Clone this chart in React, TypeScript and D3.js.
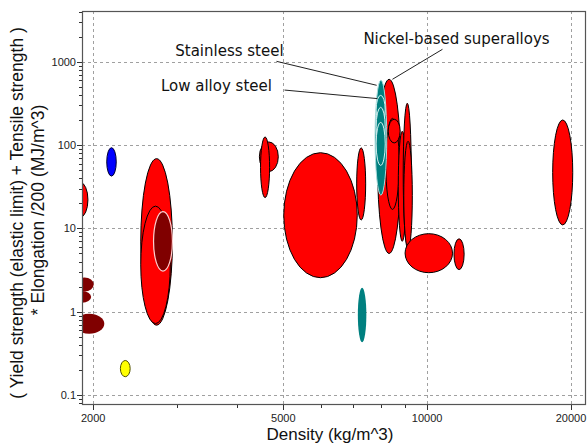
import React from "react";
import * as d3 from "d3";

// ---- data (density kg/m^3, performance index MJ/m^3) ----
const materials = [
  "Magnesium alloys", "PTFE", "GFRP (a)", "GFRP (b)", "CFRP", "Rigid foam",
  "Aluminium alloys", "Wrought Al alloys", "Cast Al alloys",
  "Titanium alloys (a)", "Titanium alloys (b)", "Zinc alloys", "Tin alloys", "Cast irons",
  "Nickel-based superalloys", "Nickel alloys", "Nickel alloys (b)",
  "Copper alloys (a)", "Copper alloys (b)", "Copper alloys (c)",
  "Stainless steel", "Low alloy steel", "Carbon steel", "Tool steel",
  "Lead alloys", "Silver alloys", "Tungsten alloys",
];
const densityLow = [1810, 2135, 1835, 1815, 1825, 2280, 2515, 2515, 2675, 4455, 4480, 5010, 7120, 7160, 7875, 8190, 8290, 8700, 8910, 8935, 7780, 7820, 7820, 7820, 8990, 11380, 18310];
const densityHigh = [1950, 2235, 2005, 1980, 2110, 2390, 2930, 2900, 2930, 4880, 4680, 7140, 7435, 7460, 8800, 8740, 8780, 9040, 9265, 9310, 8230, 8170, 8170, 8170, 11300, 11950, 20170];
const valueLow = [13.6, 42.4, 1.75, 1.28, 0.545, 0.166, 0.69, 0.72, 3.07, 48, 23.4, 2.56, 12.6, 0.43, 5, 16.9, 106, 7, 6.4, 5.6, 25, 177, 94, 57, 2.94, 3.2, 11];
const valueHigh = [35.7, 93, 2.58, 1.77, 0.945, 0.26, 68.7, 18.5, 15.9, 109, 125, 81, 92.5, 1.94, 615, 209, 204, 146, 317, 111, 600, 395, 284, 187, 8.64, 7.5, 200];
const family = [
  "metal", "polymer", "composite", "composite", "composite", "foam",
  "metal", "metal", "cast",
  "metal", "metal", "metal", "metal", "iron",
  "metal", "metal", "metal", "metal", "metal", "metal",
  "steel", "steelSub", "steelSub", "steelSub",
  "metal", "metal", "metal",
];

const annotationLabels = ["Stainless steel", "Low alloy steel", "Nickel-based superalloys"];
const annotationDensity = [2970, 2772, 7354];
const annotationValue = [1161, 447, 1618];
const leaderFromDensity = [4838, 5028, 10766];
const leaderFromValue = [1011, 457, 1409];
const leaderToDensity = [7840, 7866, 8458];
const leaderToValue = [521, 361, 615];

const xTickValues = [2000, 5000, 10000, 20000];
const xTickLabels = ["2000", "5000", "10000", "20000"];
const xMinorValues = [3000, 4000, 6000, 7000, 8000, 9000];
const yTickValues = [0.1, 1, 10, 100, 1000];
const yTickLabels = ["0.1", "1", "10", "100", "1000"];

const xTitle = "Density (kg/m^3)";
const yTitle1 = "( Yield strength (elastic limit) + Tensile strength )";
const yTitle2 = "* Elongation /200  (MJ/m^3)";

// ---- styles ----
const styles: Record<string, { fill: string; stroke: string; sw: number }> = {
  metal: { fill: "#ff0000", stroke: "#000000", sw: 1 },
  polymer: { fill: "#0000ff", stroke: "#000030", sw: 1 },
  composite: { fill: "#800000", stroke: "none", sw: 0 },
  foam: { fill: "#ffff00", stroke: "#505000", sw: 1 },
  cast: { fill: "#800000", stroke: "#ffd0d0", sw: 1.2 },
  iron: { fill: "#008080", stroke: "none", sw: 0 },
  steel: { fill: "#008080", stroke: "#a8dcdc", sw: 1 },
  steelSub: { fill: "#008080", stroke: "#d8f2f2", sw: 1 },
};

const W = 588, H = 446;
const L = 82, R = 586, T = 11, B = 405;

export default function App() {
  const x = d3.scaleLog().domain([1895, 21500]).range([L, R]);
  const y = d3.scaleLog().domain([0.076, 4060]).range([B, T]);
  const yMinor = y.ticks().filter((v) => !yTickValues.some((t) => Math.abs(t - v) / t < 1e-6));
  const axisFont = "Liberation Sans, Arial, sans-serif";

  return (
    <svg width={W} height={H} style={{ position: "absolute", left: 0, top: 0, background: "#fff" }}>
      <defs>
        <clipPath id="plotclip">
          <rect x={L} y={T} width={R - L} height={B - T} />
        </clipPath>
      </defs>
      <rect x={0} y={0} width={W} height={H} fill="#fff" />
      {/* grid */}
      <g stroke="#a0a0a0" strokeWidth={1} strokeDasharray="3,3">
        {yTickValues.map((v, i) => (
          <line key={"gy" + i} x1={L} x2={R} y1={Math.round(y(v)) + 0.5} y2={Math.round(y(v)) + 0.5} />
        ))}
        {xTickValues.map((v, i) => (
          <line key={"gx" + i} x1={Math.round(x(v)) + 0.5} x2={Math.round(x(v)) + 0.5} y1={T} y2={B} />
        ))}
      </g>
      {/* ellipses */}
      <g clipPath="url(#plotclip)">
        {materials.map((m, i) => {
          const x0 = x(densityLow[i]), x1 = x(densityHigh[i]);
          const y0 = y(valueLow[i]), y1 = y(valueHigh[i]);
          const st = styles[family[i]];
          return (
            <ellipse
              key={m}
              cx={(x0 + x1) / 2}
              cy={(y0 + y1) / 2}
              rx={Math.abs(x1 - x0) / 2}
              ry={Math.abs(y1 - y0) / 2}
              fill={st.fill}
              stroke={st.stroke}
              strokeWidth={st.sw}
            />
          );
        })}
      </g>
      {/* annotations */}
      {annotationLabels.map((t, i) => (
        <g key={t}>
          <line
            x1={x(leaderFromDensity[i])}
            y1={y(leaderFromValue[i])}
            x2={x(leaderToDensity[i])}
            y2={y(leaderToValue[i])}
            stroke="#222"
            strokeWidth={1}
          />
          <text
            x={x(annotationDensity[i])}
            y={y(annotationValue[i])}
            fontFamily="DejaVu Sans, Verdana, sans-serif"
            fontSize={15}
            fill="#111"
          >
            {t}
          </text>
        </g>
      ))}
      {/* frame */}
      <rect x={L + 0.5} y={T + 0.5} width={R - L - 1} height={B - T - 1} fill="none" stroke="#555" strokeWidth={1.2} />
      {/* ticks */}
      <g stroke="#333" strokeWidth={1}>
        {yTickValues.map((v, i) => (
          <line key={"ty" + i} x1={L - 5} x2={L} y1={Math.round(y(v)) + 0.5} y2={Math.round(y(v)) + 0.5} />
        ))}
        {yMinor.map((v, i) => (
          <line key={"my" + i} x1={L - 3} x2={L} y1={Math.round(y(v)) + 0.5} y2={Math.round(y(v)) + 0.5} />
        ))}
        {xTickValues.map((v, i) => (
          <line key={"tx" + i} x1={Math.round(x(v)) + 0.5} x2={Math.round(x(v)) + 0.5} y1={B} y2={B + 5} />
        ))}
        {xMinorValues.map((v, i) => (
          <line key={"mx" + i} x1={Math.round(x(v)) + 0.5} x2={Math.round(x(v)) + 0.5} y1={B} y2={B + 3} />
        ))}
      </g>
      {yTickValues.map((v, i) => (
        <text key={"ly" + i} x={L - 6} y={y(v) + 4} textAnchor="end" fontFamily={axisFont} fontSize={11} fill="#222">
          {yTickLabels[i]}
        </text>
      ))}
      {xTickValues.map((v, i) => (
        <text key={"lx" + i} x={x(v)} y={B + 17} textAnchor="middle" fontFamily={axisFont} fontSize={11} fill="#222">
          {xTickLabels[i]}
        </text>
      ))}
      <text x={330} y={440} textAnchor="middle" fontFamily={axisFont} fontSize={17} fill="#111">
        {xTitle}
      </text>
      <text transform={`translate(23,${213}) rotate(-90)`} textAnchor="middle" fontFamily={axisFont} fontSize={17.5} fill="#111">
        {yTitle1}
      </text>
      <text transform={`translate(44,${210}) rotate(-90)`} textAnchor="middle" fontFamily={axisFont} fontSize={17.5} fill="#111">
        {yTitle2}
      </text>
    </svg>
  );
}
